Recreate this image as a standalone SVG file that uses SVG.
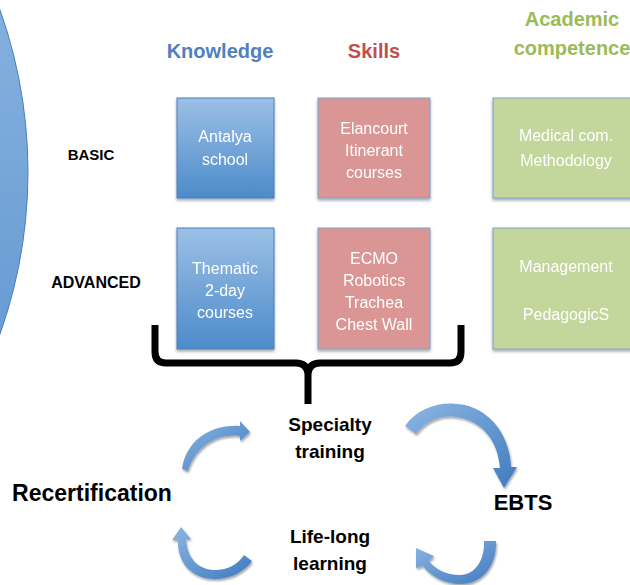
<svg xmlns="http://www.w3.org/2000/svg" width="630" height="585" viewBox="0 0 630 585">
<defs>
<linearGradient id="gBlue" x1="0" y1="0" x2="0" y2="1"><stop offset="0" stop-color="#9cc0e6"/><stop offset="1" stop-color="#4c8bca"/></linearGradient>
<linearGradient id="gCircle" x1="0" y1="0" x2="0" y2="1"><stop offset="0" stop-color="#a3c4e8"/><stop offset="1" stop-color="#4a88c8"/></linearGradient>
<linearGradient id="gArrow" x1="0" y1="0" x2="1" y2="1"><stop offset="0" stop-color="#8db6e2"/><stop offset="1" stop-color="#3f7bbf"/></linearGradient>
<filter id="sh" x="-10%" y="-10%" width="130%" height="130%"><feDropShadow dx="0" dy="2" stdDeviation="1.5" flood-color="#000" flood-opacity="0.35"/></filter>
<filter id="ash" x="-20%" y="-20%" width="140%" height="140%"><feDropShadow dx="1" dy="2" stdDeviation="1.2" flood-color="#000" flood-opacity="0.35"/></filter>
</defs>
<style>
.hd{font-family:"Liberation Sans",Arial,sans-serif;font-weight:bold;font-size:20px;text-anchor:middle}
.row{font-family:"Liberation Sans",Arial,sans-serif;font-weight:bold;font-size:15px;text-anchor:middle;fill:#000}
.bx{font-family:"Liberation Sans",Arial,sans-serif;font-size:16px;text-anchor:middle;fill:#fff}
.cy{font-family:"Liberation Sans",Arial,sans-serif;font-weight:bold;font-size:19px;text-anchor:middle;fill:#000}
.big{font-family:"Liberation Sans",Arial,sans-serif;font-weight:bold;font-size:22px;text-anchor:middle;fill:#000}
.kb{fill:url(#gBlue);stroke:#4a7ebb;stroke-width:1}
.sb{fill:#d99694;stroke:#7f9fcb;stroke-width:1}
.ab{fill:#c3d69b;stroke:#7f9fcb;stroke-width:1}
.arr{fill:url(#gArrow);filter:url(#ash)}
</style>
<ellipse id="circle" cx="-455" cy="172" rx="483" ry="483" fill="url(#gCircle)" stroke="#4a7ebb" stroke-width="1"/>
<g id="headers">
<text class="hd" x="220" y="58" fill="#4f81bd">Knowledge</text>
<text class="hd" x="374" y="58" fill="#c0504d">Skills</text>
<text class="hd" x="572" y="26" fill="#9bbb59">Academic</text>
<text class="hd" x="572" y="55" fill="#9bbb59">competence</text>
</g>
<g id="rows">
<text class="row" x="91" y="160">BASIC</text>
<text class="row" x="96" y="288" style="font-size:16px">ADVANCED</text>
</g>
<g id="k-basic" filter="url(#sh)"><rect class="kb" x="177" y="98" width="97" height="100"/><text class="bx" x="225" y="142">Antalya</text><text class="bx" x="225" y="165">school</text></g>
<g id="s-basic" filter="url(#sh)"><rect class="sb" x="318" y="98" width="112" height="100"/><text class="bx" x="374" y="134">Elancourt</text><text class="bx" x="374" y="156">Itinerant</text><text class="bx" x="374" y="178">courses</text></g>
<g id="a-basic" filter="url(#sh)"><rect class="ab" x="493" y="98" width="145" height="100"/><text class="bx" x="566" y="141">Medical com.</text><text class="bx" x="566" y="166">Methodology</text></g>
<g id="k-adv" filter="url(#sh)"><rect class="kb" x="177" y="228" width="97" height="121"/><text class="bx" x="225" y="274">Thematic</text><text class="bx" x="225" y="296">2-day</text><text class="bx" x="225" y="318">courses</text></g>
<g id="s-adv" filter="url(#sh)"><rect class="sb" x="318" y="228" width="112" height="121"/><text class="bx" x="374" y="264">ECMO</text><text class="bx" x="374" y="286">Robotics</text><text class="bx" x="374" y="308">Trachea</text><text class="bx" x="374" y="330">Chest Wall</text></g>
<g id="a-adv" filter="url(#sh)"><rect class="ab" x="493" y="228" width="145" height="121"/><text class="bx" x="566" y="272">Management</text><text class="bx" x="566" y="320">PedagogicS</text></g>
<g id="connectors">
<path id="brace" d="M155,325 L155,352 Q155,363 166,363 L296,363 Q307,363 308,374 L308,404 M308,374 Q309,363 320,363 L450,363 Q461,363 461,352 L461,325" fill="none" stroke="#000" stroke-width="7" stroke-linecap="butt"/>
<path id="arrow1" class="arr" d="M250,432 L240,441 L240,436 C215,433 195,448 188,471 L182,469 C186,441 210,424 240,426 L240,421 Z"/>
<path id="arrow2" class="arr" d="M504,488 L493,468 L500,468 C498,442 484,424 462,418 C442,413 427,420 416,434 L405,426 C418,407 442,400 465,405 C493,412 510,438 511,467 L517,467 Z"/>
<path id="arrow3" class="arr" d="M416,548 L434,556 L429,561 C435,569 446,575 460,575 C475,575 485,560 484,541 L496,541 C497,566 482,584 461,584 C444,584 430,576 423,566 L416,568 Z"/>
<path id="arrow4" class="arr" d="M181,527 L191,539 L186,539 C187,560 200,570 215,570 C228,570 238,564 244,555 L252,561 C245,571 232,579 215,579 C195,579 177,566 178,540 L172,540 Z"/>
</g>
<g id="specialty"><text class="cy" x="330" y="431">Specialty</text><text class="cy" x="330" y="458">training</text></g>
<g id="recert"><text class="big" x="92" y="501" style="font-size:23px">Recertification</text></g>
<g id="ebts"><text class="big" x="523" y="510">EBTS</text></g>
<g id="lifelong"><text class="cy" x="330" y="543">Life-long</text><text class="cy" x="330" y="570">learning</text></g>
</svg>
